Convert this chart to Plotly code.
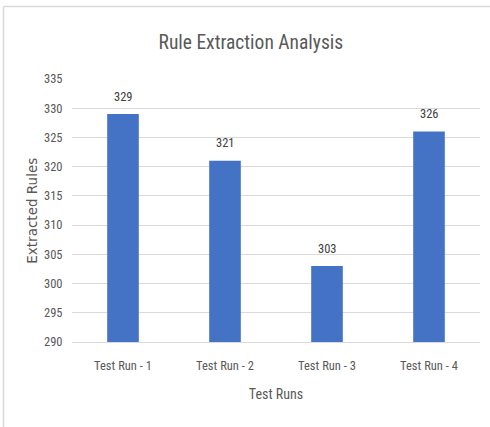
import plotly.graph_objects as go

# Rule counts extracted in each test run
runs = ["Test Run - 1", "Test Run - 2", "Test Run - 3", "Test Run - 4"]
extracted_rules = [329, 321, 303, 326]
y_ticks = [290, 295, 300, 305, 310, 315, 320, 325, 330, 335]

BAR_BLUE = "#4472C4"
GRID = "#D9D9D9"
TEXT_GRAY = "#595959"
NARROW = "Liberation Sans Narrow, Roboto Condensed, Open Sans, sans-serif"

fig = go.Figure(
    go.Bar(
        x=runs,
        y=extracted_rules,
        marker=dict(color=BAR_BLUE, line=dict(width=0)),
        width=0.31,
        hoverinfo="x+y",
    )
)

# value labels just above each bar
for run, val in zip(runs, extracted_rules):
    fig.add_annotation(
        x=run, y=val, text=str(val), showarrow=False,
        yanchor="middle", yshift=18,
        font=dict(family=NARROW, size=12.5, color="#404040"),
    )

# y-axis caption
fig.add_annotation(
    xref="paper", yref="paper", x=-0.1, y=0.5,
    text="Extracted Rules", textangle=-90, showarrow=False,
    xanchor="center", yanchor="middle",
    font=dict(family="DejaVu Sans, Verdana, sans-serif", size=13.5, color=TEXT_GRAY),
)

# light chart-area frame (top and left edges)
frame = dict(color="#D9D9D9", width=1.5)
fig.add_shape(type="line", xref="paper", yref="paper",
              x0=-0.168, x1=1.03, y0=1.2757, y1=1.2757, line=frame)
fig.add_shape(type="line", xref="paper", yref="paper",
              x0=-0.168, x1=-0.168, y0=1.2757, y1=-0.33, line=frame)

fig.update_layout(
    width=490, height=427,
    margin=dict(l=72, r=10, t=79, b=85),
    paper_bgcolor="white", plot_bgcolor="white",
    showlegend=False,
    title=dict(
        text="Rule Extraction Analysis",
        x=0.512, xref="container", xanchor="center",
        y=1 - 42 / 427, yref="container", yanchor="middle",
        font=dict(family=NARROW, size=19.5, color=TEXT_GRAY),
    ),
    xaxis=dict(
        showgrid=False, showline=True, linecolor=GRID, linewidth=1,
        ticks="outside", ticklen=12, tickcolor="rgba(0,0,0,0)",
        tickfont=dict(family=NARROW, size=12.5, color=TEXT_GRAY),
        title=dict(text="Test Runs", standoff=17,
                   font=dict(family=NARROW, size=14, color=TEXT_GRAY)),
        fixedrange=True,
    ),
    yaxis=dict(
        range=[290, 335], tickvals=y_ticks,
        showgrid=True, gridcolor=GRID, gridwidth=1,
        zeroline=False, showline=False,
        ticks="outside", ticklen=6, tickcolor="rgba(0,0,0,0)",
        tickfont=dict(family=NARROW, size=12.5, color=TEXT_GRAY),
        fixedrange=True,
    ),
)

fig.write_html("out.html")
